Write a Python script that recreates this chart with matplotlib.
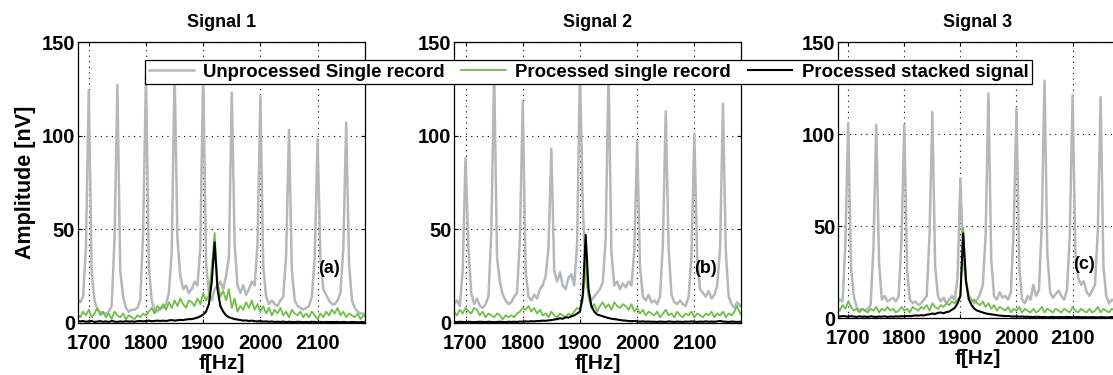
import numpy as np
import matplotlib.pyplot as plt

plt.rcParams['font.family'] = ['Liberation Sans', 'DejaVu Sans']

# frequency grid (5 Hz steps), shared by every series below
freq = np.arange(1680, 2190, 5)

titles = ["Signal 1", "Signal 2", "Signal 3"]
panel_tags = ["(a)", "(b)", "(c)"]
series_labels = ["Unprocessed Single record", "Processed single record",
                 "Processed stacked signal"]
x_ticks = [1700, 1800, 1900, 2000, 2100]
y_ticks = [0, 50, 100, 150]

# Signal 1
raw_1 = [13, 11, 14, 40, 124, 28, 12, 7, 6, 5,
         5, 6, 9, 45, 127, 28, 14, 8, 6, 7,
         7, 8, 12, 48, 132, 30, 12, 7, 6, 8,
         8, 10, 16, 38, 135, 45, 25, 18, 20, 16,
         18, 22, 20, 40, 135, 32, 16, 12, 18, 20,
         22, 18, 25, 35, 123, 42, 20, 16, 20, 15,
         18, 22, 20, 42, 121, 30, 14, 10, 12, 10,
         9, 12, 14, 36, 103, 28, 12, 9, 8, 7,
         8, 9, 14, 35, 98, 34, 18, 15, 12, 10,
         10, 12, 16, 40, 107, 32, 12, 8, 6, 5,
         5, 4]
proc_1 = [5, 3, 6, 4, 7, 3, 5, 8, 4, 6,
          3, 5, 2, 6, 4, 3, 5, 2, 4, 3,
          2, 4, 3, 5, 4, 6, 8, 5, 9, 7,
          10, 7, 11, 8, 12, 9, 13, 10, 8, 12,
          11, 9, 13, 10, 16, 12, 15, 30, 48, 22,
          14, 17, 12, 18, 8, 13, 6, 9, 7, 11,
          8, 12, 7, 10, 6, 9, 5, 8, 4, 7,
          5, 8, 4, 6, 3, 7, 5, 4, 6, 3,
          5, 3, 6, 4, 2, 5, 3, 6, 4, 7,
          5, 8, 4, 6, 3, 5, 4, 3, 5, 2,
          4, 3]
stack_1 = [1, 0.8, 1, 0.6, 0.8, 1, 0.5, 0.7, 0.9, 0.6,
           0.8, 0.5, 1, 0.7, 0.5, 0.8, 0.6, 0.9, 0.7, 0.8,
           0.6, 0.9, 1, 0.8, 1, 1.2, 0.9, 1, 1.2, 1,
           1.2, 1, 1.3, 1.5, 1.2, 1.4, 1.6, 1.5, 1.8, 2,
           2, 2.4, 2.8, 3.5, 4.5, 6, 10, 22, 43, 18,
           9, 6, 4, 3, 2.5, 2, 1.8, 1.5, 1.2, 1.3,
           1, 1.2, 0.9, 0.8, 1, 0.7, 0.8, 0.6, 0.7, 0.5,
           0.6, 0.5, 0.7, 0.4, 0.6, 0.5, 0.4, 0.6, 0.5, 0.4,
           0.5, 0.4, 0.6, 0.5, 0.4, 0.5, 0.3, 0.5, 0.4, 0.5,
           0.4, 0.5, 0.3, 0.5, 0.4, 0.3, 0.5, 0.4, 0.3, 0.4,
           0.4, 0.3]

# Signal 2
raw_2 = [10, 12, 9, 28, 88, 40, 16, 10, 13, 9,
         8, 10, 14, 48, 135, 35, 22, 15, 12, 10,
         11, 14, 16, 45, 118, 28, 14, 12, 15, 13,
         18, 20, 25, 40, 93, 28, 22, 27, 20, 18,
         24, 26, 20, 42, 135, 62, 25, 16, 12, 14,
         16, 18, 22, 45, 135, 38, 20, 22, 18, 21,
         19, 22, 20, 38, 97, 30, 14, 12, 15, 11,
         12, 10, 14, 42, 113, 40, 15, 11, 10, 12,
         10, 9, 14, 36, 101, 35, 18, 16, 14, 17,
         13, 15, 20, 40, 117, 38, 14, 10, 8, 11,
         9, 10]
proc_2 = [6, 4, 7, 5, 8, 6, 5, 8, 7, 4,
          6, 3, 5, 4, 3, 5, 4, 2, 4, 3,
          4, 3, 5, 6, 8, 7, 9, 6, 8, 5,
          7, 4, 5, 3, 6, 4, 3, 5, 4, 3,
          5, 4, 6, 8, 7, 12, 32, 14, 8, 10,
          6, 9, 11, 8, 10, 7, 11, 9, 8, 10,
          9, 7, 10, 6, 8, 5, 7, 4, 6, 5,
          4, 6, 3, 5, 7, 4, 5, 3, 6, 4,
          3, 5, 4, 6, 3, 5, 4, 3, 5, 4,
          6, 3, 5, 4, 6, 3, 5, 4, 6, 9,
          5, 4]
stack_2 = [0.5, 0.4, 0.6, 0.5, 0.4, 0.6, 0.5, 0.4, 0.5, 0.6,
           0.5, 0.4, 0.6, 0.5, 0.4, 0.5, 0.6, 0.5, 0.4, 0.6,
           0.5, 0.6, 0.5, 0.7, 0.6, 0.8, 0.7, 0.9, 0.8, 1,
           1, 1.2, 1.1, 1.3, 1.5, 1.8, 2, 2.5, 2.2, 3,
           2.8, 3.5, 4, 5, 6, 15, 47, 18, 9, 6,
           4.5, 4, 3.5, 3, 2.6, 2.2, 2, 1.8, 1.5, 1.3,
           1.2, 1, 0.9, 1, 0.8, 0.7, 0.8, 0.6, 0.7, 0.6,
           0.6, 0.5, 0.7, 0.6, 0.5, 0.8, 0.6, 0.5, 0.7, 0.6,
           0.5, 0.7, 0.6, 0.8, 0.6, 0.5, 0.7, 0.6, 0.8, 0.6,
           0.7, 0.6, 0.8, 1, 0.7, 0.6, 0.5, 0.7, 0.6, 0.5,
           0.6, 0.5]

# Signal 3
raw_3 = [8, 10, 9, 40, 106, 28, 12, 6, 4, 5,
         4, 5, 7, 38, 105, 30, 10, 12, 9, 10,
         11, 9, 12, 42, 105, 26, 10, 8, 9, 7,
         8, 10, 12, 45, 112, 28, 12, 9, 11, 8,
         10, 12, 10, 22, 76, 32, 20, 12, 10, 8,
         10, 13, 18, 45, 122, 32, 12, 10, 14, 11,
         12, 10, 14, 48, 114, 28, 10, 8, 12, 10,
         18, 12, 15, 50, 129, 35, 14, 11, 13, 15,
         12, 10, 15, 45, 121, 35, 22, 18, 20, 14,
         12, 15, 18, 48, 120, 28, 12, 8, 10, 9,
         8, 10]
proc_3 = [6, 4, 7, 5, 9, 6, 4, 5, 3, 5,
          4, 3, 5, 4, 6, 3, 5, 4, 6, 4,
          5, 3, 4, 6, 4, 5, 3, 6, 5, 4,
          6, 5, 7, 4, 8, 6, 5, 7, 6, 8,
          7, 9, 8, 10, 12, 49, 20, 12, 9, 10,
          8, 7, 9, 6, 8, 5, 7, 4, 6, 5,
          4, 6, 3, 5, 4, 6, 3, 5, 4, 3,
          5, 3, 4, 6, 3, 5, 4, 3, 5, 4,
          3, 5, 4, 3, 6, 4, 3, 5, 4, 3,
          5, 3, 4, 6, 3, 5, 4, 3, 5, 4,
          3, 5]
stack_3 = [1, 0.8, 1.1, 0.9, 0.7, 1, 0.8, 0.6, 0.9, 0.7,
           0.8, 0.6, 0.9, 0.7, 0.6, 0.8, 0.7, 0.9, 0.6, 0.8,
           0.7, 0.9, 0.8, 1, 0.9, 1.1, 1, 1.2, 1.4, 1.3,
           1.5, 1.4, 1.8, 2, 2.4, 2.2, 2.8, 3, 2.6, 3.2,
           3.5, 4.5, 5.5, 8, 12, 46, 20, 10, 7, 5,
           4, 3.5, 3, 2.5, 2.2, 2, 1.8, 1.5, 1.3, 1.2,
           1, 1.1, 0.9, 0.8, 0.9, 0.7, 0.8, 0.6, 0.7, 0.6,
           0.5, 0.7, 0.6, 0.5, 0.6, 0.4, 0.5, 0.6, 0.4, 0.5,
           0.5, 0.4, 0.6, 0.5, 0.4, 0.5, 0.6, 0.4, 0.5, 0.4,
           0.4, 0.5, 0.4, 0.3, 0.5, 0.4, 0.3, 0.4, 0.5, 0.4,
           0.4, 0.3]

raw_all = [raw_1, raw_2, raw_3]
proc_all = [proc_1, proc_2, proc_3]
stack_all = [stack_1, stack_2, stack_3]

# axes boxes in figure fractions, and x-range of each panel
boxes = [[0.070, 0.139, 0.258, 0.749],
         [0.408, 0.139, 0.258, 0.749],
         [0.753, 0.152, 0.251, 0.736]]
xlims = [(1681, 2183), (1680, 2182), (1682, 2180)]

GRAY = '#b5b8bb'
GREEN = '#6fbf47'

fig = plt.figure(figsize=(11.13, 3.75), dpi=100)
handles = None
for k in range(3):
    ax = fig.add_axes(boxes[k])
    h1, = ax.plot(freq, raw_all[k], color=GRAY, lw=1.8, label=series_labels[0])
    h2, = ax.plot(freq, proc_all[k], color=GREEN, lw=1.3, label=series_labels[1])
    h3, = ax.plot(freq, stack_all[k], color='black', lw=1.5, label=series_labels[2])
    if handles is None:
        handles = [h1, h2, h3]

    ax.set_xlim(*xlims[k])
    ax.set_ylim(0, 150)
    ax.set_xticks(x_ticks)
    ax.set_yticks(y_ticks)
    ax.grid(True, color='black', linestyle=(0, (1, 4)), linewidth=0.8)
    ax.tick_params(direction='in', top=True, right=True, length=3,
                   labelsize=14.5)
    ax.tick_params(axis='x', pad=8)
    ax.tick_params(axis='y', pad=2)
    for lab in ax.get_xticklabels() + ax.get_yticklabels():
        lab.set_fontweight('bold')
    for sp in ax.spines.values():
        sp.set_linewidth(0.9)

    ax.set_title(titles[k], fontsize=13, fontweight='bold', pad=11)
    ax.set_xlabel("f[Hz]", fontsize=15, fontweight='bold', labelpad=1)
    ax.text(2120, 29, panel_tags[k], ha='center', va='center',
            fontsize=13, fontweight='bold')
    if k == 0:
        ax.set_ylabel("Amplitude [nV]", fontsize=15.5, fontweight='bold',
                      labelpad=4)

leg = fig.legend(handles, series_labels, loc='center', ncol=3,
                 bbox_to_anchor=(0.529, 0.808), frameon=True, fancybox=False,
                 edgecolor='black', framealpha=1.0, handlelength=2.4,
                 columnspacing=0.9, handletextpad=0.5, borderpad=0.2,
                 prop={'weight': 'bold', 'size': 13.4})
leg.get_frame().set_linewidth(0.9)

fig.savefig("out.png", dpi=100)
